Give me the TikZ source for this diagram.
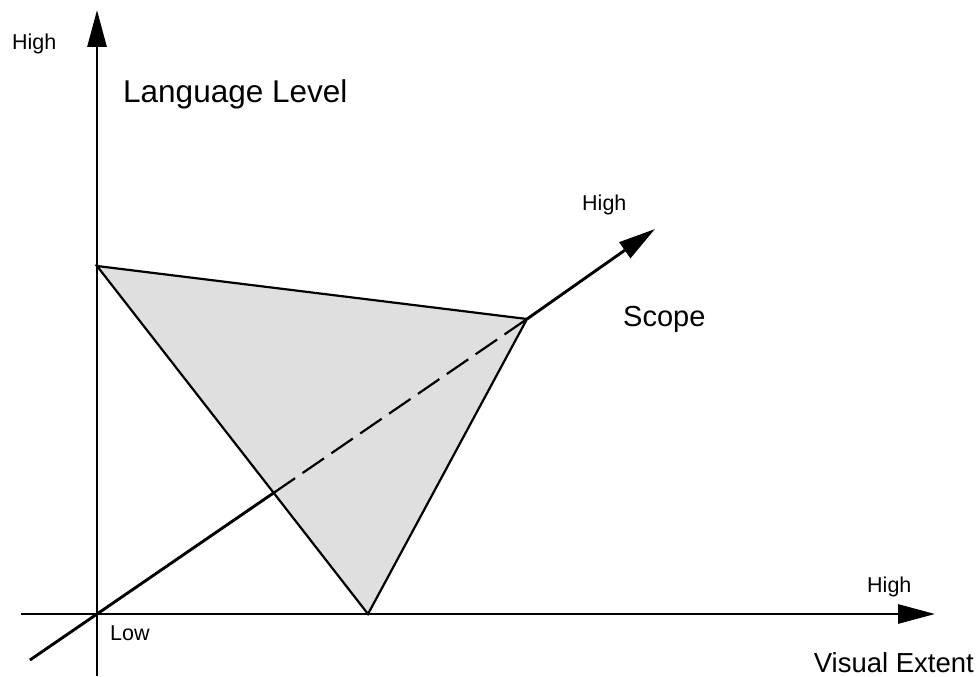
\documentclass[tikz,border=0pt]{standalone}
\usepackage{fontspec}
\setmainfont{Liberation Sans}
\usetikzlibrary{arrows.meta,calc,intersections}
\begin{document}
\begin{tikzpicture}[x=1pt,y=-1pt,
  axis/.style={line width=2.9pt},
  arrowaxis/.style={axis,-{Triangle[length=37pt,width=19pt]}},
  edge/.style={line width=2.2pt},
  dashedaxis/.style={line width=2.2pt,dash pattern=on 26pt off 9pt},
  smalllbl/.style={inner sep=0pt,font=\fontsize{21.5}{24}\selectfont},
  biglbl/.style={inner sep=0pt,font=\fontsize{29}{34}\selectfont}]
\useasboundingbox (0,0) rectangle (977,677);
% points
\coordinate (O) at (97,614);
\coordinate (A) at (97,266);
\coordinate (S) at (527,319);
\coordinate (B) at (368,614);
\coordinate (Ytop) at (97,10);
\coordinate (Ybot) at (97,676);
\coordinate (Xleft) at (21,614);
\coordinate (Xright) at (935,614);
\coordinate (Dtip) at (655,229);
\coordinate (Dlow) at ($(O)!-0.156!(S)$);
\coordinate (X) at (intersection of O--S and A--B);
% triangle
\draw[edge,fill={rgb,255:red,223;green,223;blue,223},line join=miter] (A) -- (S) -- (B) -- cycle;
% axes
\draw[arrowaxis] (Ybot) -- (Ytop);
\draw[arrowaxis] (Xleft) -- (Xright);
\draw[axis] (Dlow) -- (X);
\draw[dashedaxis] (X) -- (S);
\draw[arrowaxis] (S) -- (Dtip);
% labels
\node[smalllbl,anchor=base west] (hy) at (12,50) {High};
\node[biglbl,anchor=base west,font=\fontsize{31.5}{36}\selectfont] (ll) at (123,102) {Language Level};
\node[smalllbl,anchor=base west] (hs) at (582,210) {High};
\node[biglbl,anchor=base west] (sc) at (623,326) {Scope};
\node[smalllbl,anchor=base west] (lo) at (110,640) {Low};
\node[smalllbl,anchor=base west] (hx) at (867,592) {High};
\node[biglbl,anchor=base east,font=\fontsize{27.5}{32}\selectfont] (ve) at (974,672) {Visual Extent};
\end{tikzpicture}
\end{document}
